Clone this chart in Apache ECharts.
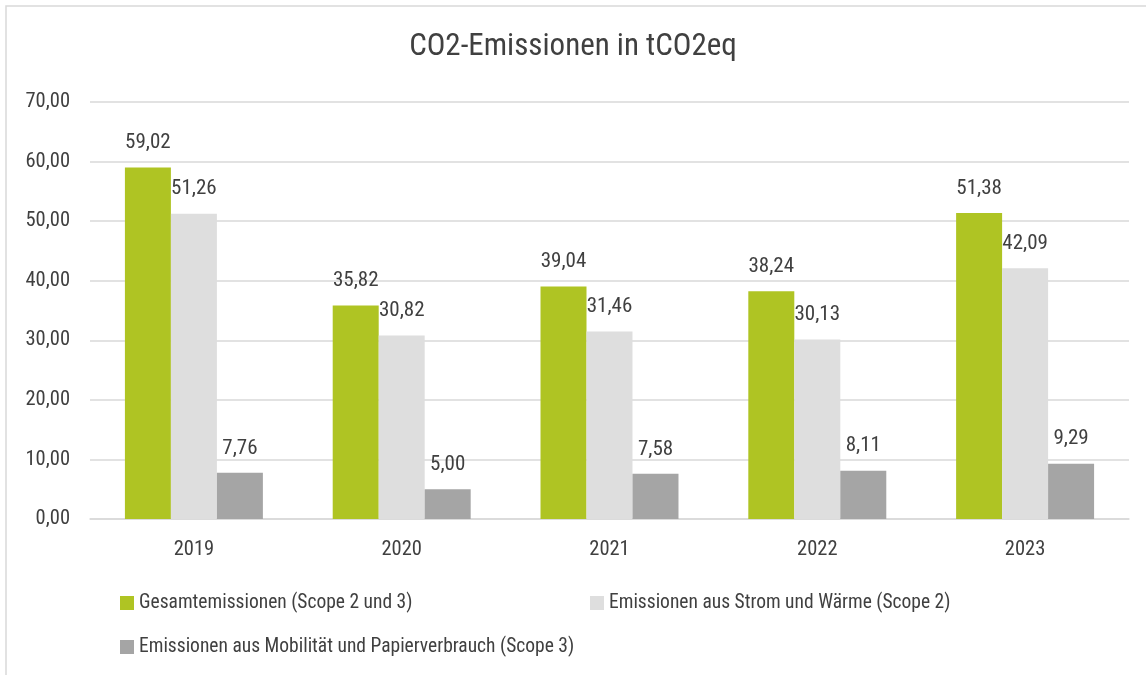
<!DOCTYPE html>
<html>
<head>
<meta charset="utf-8">
<script src="https://cdn.jsdelivr.net/npm/echarts@6/dist/echarts.min.js"></script>
<style>
  html, body { margin: 0; padding: 0; background: #fff; }
  #chart { width: 1146px; height: 675px; }
</style>
</head>
<body>
<div id="chart"></div>
<script>
  const years = ['2019', '2020', '2021', '2022', '2023']
  const gesamt = [59.02, 35.82, 39.04, 38.24, 51.38]
  const scope2 = [51.26, 30.82, 31.46, 30.13, 42.09]
  const scope3 = [7.76, 5.00, 7.58, 8.11, 9.29]
  const seriesNames = [
    'Gesamtemissionen (Scope 2 und 3)',
    'Emissionen aus Strom und Wärme (Scope 2)',
    'Emissionen aus Mobilität und Papierverbrauch (Scope 3)'
  ]

  const font = '"Liberation Sans Narrow", "Roboto Condensed", "DejaVu Sans Condensed", sans-serif'
  const textColor = '#404040'
  const fmt = v => v.toFixed(2).replace('.', ',')

  const chart = echarts.init(document.getElementById('chart'))

  function bar(name, data, color) {
    return {
      name: name,
      type: 'bar',
      data: data,
      barGap: 0,
      barCategoryGap: '33.6%',
      itemStyle: { color: color },
      label: {
        show: true,
        position: 'top',
        distance: 14,
        color: textColor,
        fontFamily: font,
        fontSize: 21,
        formatter: p => fmt(p.value)
      }
    }
  }

  function legend(name, left, top) {
    return {
      data: [name],
      left: left,
      top: top,
      icon: 'rect',
      itemWidth: 14,
      itemHeight: 14,
      itemGap: 6,
      textStyle: { color: textColor, fontFamily: font, fontSize: 19.5 }
    }
  }

  chart.setOption({
    animation: false,
    title: {
      text: 'CO2-Emissionen in tCO2eq',
      left: 'center',
      top: 27,
      textStyle: { color: textColor, fontFamily: font, fontSize: 31, fontWeight: 'normal' }
    },
    graphic: [{
      type: 'rect',
      shape: { x: 6, y: 6, width: 1200, height: 720 },
      style: { fill: 'none', stroke: '#d9d9d9', lineWidth: 1.5 },
      silent: true
    }],
    legend: [
      legend(seriesNames[0], 115, 588),
      legend(seriesNames[1], 585, 588),
      legend(seriesNames[2], 115, 632)
    ],
    grid: { left: 90, right: 17, top: 102, bottom: 156, containLabel: false },
    xAxis: {
      type: 'category',
      data: years,
      axisLine: { show: true, lineStyle: { color: '#d9d9d9', width: 1.5 } },
      axisTick: { show: false },
      axisLabel: { color: textColor, fontFamily: font, fontSize: 20.5, margin: 20 }
    },
    yAxis: {
      type: 'value',
      min: 0,
      max: 70,
      interval: 10,
      axisLine: { show: false },
      axisTick: { show: false },
      splitLine: { lineStyle: { color: '#d9d9d9', width: 1.5 } },
      axisLabel: {
        color: textColor, fontFamily: font, fontSize: 20.5, margin: 20,
        formatter: v => fmt(v)
      }
    },
    series: [
      bar(seriesNames[0], gesamt, '#afc423'),
      bar(seriesNames[1], scope2, '#dedede'),
      bar(seriesNames[2], scope3, '#a5a5a5')
    ]
  })
</script>
</body>
</html>
